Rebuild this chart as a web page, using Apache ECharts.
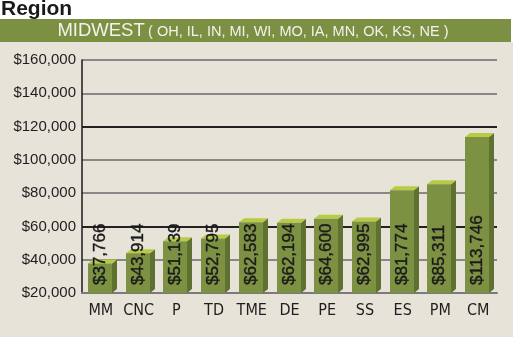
<!DOCTYPE html>
<html>
<head>
<meta charset="utf-8">
<script src="https://cdn.jsdelivr.net/npm/echarts@6/dist/echarts.min.js"></script>
<style>
html,body{margin:0;padding:0;background:#fff;}
#chart{width:526px;height:353px;}
</style>
</head>
<body>
<div id="chart"></div>
<script>
const categories = ['MM','CNC','P','TD','TME','DE','PE','SS','ES','PM','CM'];
const values = [37766,43914,51139,52795,62583,62194,64600,62995,81774,85311,113746];
const yMin = 20000, yMax = 160000, yStep = 20000;
const titleText = 'Region';
const bandMain = 'MIDWEST';
const bandSub = '( OH, IL, IN, MI, WI, MO, IA, MN, OK, KS, NE )';

const FRONT = '#7d9143', TOP = '#b7cb45', SIDE = '#5f7131';
const FONT = "'Liberation Sans', Arial, sans-serif";
const NARROW = "'Liberation Sans Narrow', 'DejaVu Sans Condensed', 'Liberation Sans', Arial, sans-serif";

function fmt(v){ return '$' + v.toLocaleString('en-US'); }

function renderItem(params, api){
  const xi = api.value(0), v = api.value(1);
  const top = api.coord([xi, v]);
  const base = api.coord([xi, yMin]);
  const w = 24, dx = 5, dy = 4;
  const x0 = Math.round(top[0] - w/2 - 1), x1 = x0 + w;
  const yt = top[1], yb = base[1];
  return {
    type: 'group',
    children: [
      {type:'polygon', shape:{points:[[x1,yt],[x1+dx,yt-dy],[x1+dx,yb-dy],[x1,yb]]}, style:{fill:SIDE}},
      {type:'polygon', shape:{points:[[x0,yt],[x0+dx,yt-dy],[x1+dx,yt-dy],[x1,yt]]}, style:{fill:TOP}},
      {type:'rect', shape:{x:x0, y:yt, width:w, height:yb-yt}, style:{fill:FRONT}},
      {type:'text', x: x0 + w/2, y: yb - 8, rotation: Math.PI/2,
        style:{text: fmt(v), x:0, y:0, align:'left', verticalAlign:'middle',
          fill:'#1a1a1a', font: "17px " + FONT, stroke:'#1a1a1a', lineWidth:0.4}}
    ]
  };
}

const gridColors = ['#888','#888','#222','#888','#888','#222','#888','#888'];

const chart = echarts.init(document.getElementById('chart'), null, {renderer:'canvas'});
chart.setOption({
  animation: false,
  backgroundColor: '#ffffff',
  graphic: [
    {type:'rect', z:-10, shape:{x:0, y:42, width:513, height:295}, style:{fill:'#e7e3d9'}},
    {type:'rect', z:-9, shape:{x:0, y:19, width:511, height:23}, style:{fill:'#7b9043'}},
    {type:'text', left: 1, top: -1, style:{text:titleText, font:"bold 21px " + FONT, fill:'#1a1a1a'}},
    {type:'text', x: 253, y: 31, style:{
      text: '{a|' + bandMain + '} {b|' + bandSub + '}', align:'center', verticalAlign:'middle',
      fill:'#f2f2ea',
      rich:{
        a:{fontSize:18.5, fontFamily:FONT, fill:'#f2f2ea', color:'#f2f2ea'},
        b:{fontSize:14.5, fontFamily:FONT, fill:'#f2f2ea', color:'#f2f2ea', padding:[2,0,0,0]}
      }
    }}
  ],
  grid: {left: 82, right: 29, top: 60, bottom: 60, containLabel: false},
  xAxis: {
    type: 'category',
    data: categories,
    axisLine: {show:true, lineStyle:{color:'#7a7a7a', width:2}},
    axisTick: {show:false},
    axisLabel: {color:'#1e1e1e', fontFamily: NARROW, fontSize:16, margin:10, interval:0}
  },
  yAxis: {
    type: 'value',
    min: yMin, max: yMax, interval: yStep,
    axisLine: {show:true, lineStyle:{color:'#1a1a1a', width:1.5}},
    axisTick: {show:false},
    axisLabel: {color:'#1e1e1e', fontFamily: FONT, fontSize:15, margin:6,
      formatter: v => fmt(v)},
    splitLine: {show:true, lineStyle:{color: gridColors, width:2}}
  },
  series: [{
    type: 'custom',
    renderItem: renderItem,
    data: values.map((v,i)=>[i, v]),
    clip: false,
    z: 3
  }]
});
</script>
</body>
</html>
